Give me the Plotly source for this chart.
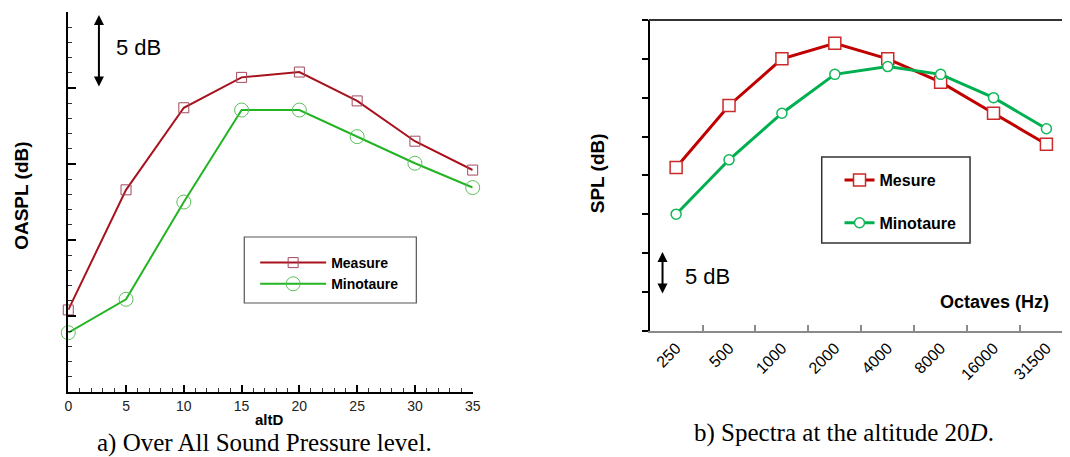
import plotly.graph_objects as go

# ---------------- data ----------------
alt_d = [0, 5, 10, 15, 20, 25, 30, 35]
oaspl_measure = [5.4, 13.3, 18.7, 20.7, 21.05, 19.15, 16.5, 14.6]
oaspl_minotaure = [3.9, 6.1, 12.5, 18.55, 18.55, 16.8, 15.05, 13.45]

octaves = ["250", "500", "1000", "2000", "4000", "8000", "16000", "31500"]
spl_mesure = [21, 29, 35, 37, 35, 32, 28, 24]
spl_minotaure = [15, 22, 28, 33, 34, 33, 30, 26]

W, H = 1070, 457


def X(px):
    return px / W


def Y(py):
    return 1 - py / H


SANS = "Liberation Sans, Arial, sans-serif"
SERIF = "Liberation Serif, Times New Roman, serif"

fig = go.Figure()

# ---------------- left chart ----------------
fig.add_trace(go.Scatter(
    x=alt_d, y=oaspl_measure, name="Measure", mode="lines+markers",
    line=dict(color="#a8121e", width=2),
    marker=dict(symbol="square-open", size=10, color="#a24a5c", line=dict(width=1)),
    cliponaxis=False, xaxis="x", yaxis="y", legend="legend"))
fig.add_trace(go.Scatter(
    x=alt_d, y=oaspl_minotaure, name="Minotaure", mode="lines+markers",
    line=dict(color="#22b422", width=2),
    marker=dict(symbol="circle-open", size=14, color="#5cbf5c", line=dict(width=1)),
    cliponaxis=False, xaxis="x", yaxis="y", legend="legend"))

# ---------------- right chart ----------------
fig.add_trace(go.Scatter(
    x=octaves, y=spl_mesure, name="Mesure", mode="lines+markers",
    line=dict(color="#c00000", width=3),
    marker=dict(symbol="square", size=12, color="white", line=dict(color="#cc2a2a", width=1.5)),
    cliponaxis=False, xaxis="x2", yaxis="y2", legend="legend2", legendgroup="g1"))
fig.add_trace(go.Scatter(
    x=octaves, y=spl_minotaure, name="Minotaure", mode="lines+markers",
    line=dict(color="#00b050", width=3),
    marker=dict(symbol="circle", size=10, color="white", line=dict(color="#10b858", width=1.5)),
    cliponaxis=False, xaxis="x2", yaxis="y2", legend="legend2", legendgroup="g2"))

fig.update_layout(
    width=W, height=H,
    margin=dict(l=0, r=0, t=0, b=0),
    paper_bgcolor="white", plot_bgcolor="white",
    xaxis=dict(
        domain=[X(65), X(474)], range=[0, 35], anchor="y",
        showline=True, linecolor="black", linewidth=2,
        ticks="inside", ticklen=7, tickwidth=1.5, tickcolor="black",
        tickmode="linear", tick0=0, dtick=5,
        minor=dict(ticks="inside", ticklen=4, tickwidth=1, tickcolor="#333", dtick=1),
        showgrid=False, zeroline=False,
        tickfont=dict(family=SANS, size=14, color="#222"),
    ),
    yaxis=dict(
        domain=[Y(392), Y(12)], range=[0, 25], anchor="x",
        showline=True, linecolor="black", linewidth=2,
        ticks="inside", ticklen=8, tickwidth=2, tickcolor="black",
        tickmode="linear", tick0=0, dtick=5,
        minor=dict(ticks="inside", ticklen=4, tickwidth=1, tickcolor="#333", dtick=1),
        showticklabels=False, showgrid=False, zeroline=False,
    ),
    xaxis2=dict(
        domain=[X(653), 1.0], type="category", range=[-0.5, -0.5 + (W - 653) / 53.5],
        anchor="y2", tickson="boundaries",
        showline=True, linecolor="#8a8a8a", linewidth=2,
        ticks="inside", ticklen=6, tickwidth=1.5, tickcolor="#8a8a8a",
        tickangle=-45, showgrid=False, zeroline=False,
        tickfont=dict(family=SANS, size=16, color="black"),
    ),
    yaxis2=dict(
        domain=[Y(330.7), Y(20)], range=[0, 40], anchor="x2",
        showline=True, linecolor="black", linewidth=2,
        ticks="outside", ticklen=6, tickwidth=1.5, tickcolor="black",
        tickmode="linear", tick0=0, dtick=5,
        showticklabels=False, showgrid=False, zeroline=False,
    ),
    legend=dict(
        x=X(254), y=Y(247), xanchor="left", yanchor="top",
        bgcolor="rgba(0,0,0,0)", borderwidth=0, itemwidth=66,
        font=dict(family=SANS, size=14, color="black", weight="bold"),
        tracegroupgap=0,
    ),
    legend2=dict(
        x=X(845), y=Y(163), xanchor="left", yanchor="top",
        bgcolor="rgba(0,0,0,0)", borderwidth=0, itemwidth=30,
        font=dict(family=SANS, size=16, color="black", weight="bold"),
        traceorder="grouped", tracegroupgap=19,
    ),
    showlegend=True,
)

shapes = [
    # legend frames
    dict(type="rect", xref="paper", yref="paper", x0=X(243), x1=X(417), y0=Y(303), y1=Y(237),
         line=dict(color="#555", width=1.2)),
    dict(type="rect", xref="paper", yref="paper", x0=X(827), x1=X(977), y0=Y(243), y1=Y(157),
         line=dict(color="#333", width=1.5)),
    # top frame line of right chart
    dict(type="line", xref="paper", yref="paper", x0=X(652), x1=1.0, y0=Y(20), y1=Y(20),
         line=dict(color="#333", width=2)),
]
fig.update_layout(shapes=shapes)

annotations = [
    # 5 dB arrows
    dict(xref="paper", yref="paper", x=X(96), y=Y(15), ax=0, ay=73, axref="pixel", ayref="pixel",
         text="", showarrow=True, arrowhead=2, startarrowhead=2, arrowside="end+start",
         arrowsize=1, arrowwidth=2, arrowcolor="black", standoff=0, startstandoff=0),
    dict(xref="paper", yref="paper", x=X(111), y=Y(48), text="5 dB", showarrow=False,
         xanchor="left", yanchor="middle", font=dict(family=SANS, size=22, color="black")),
    dict(xref="paper", yref="paper", x=X(666), y=Y(252), ax=0, ay=43, axref="pixel", ayref="pixel",
         text="", showarrow=True, arrowhead=2, startarrowhead=2, arrowside="end+start",
         arrowsize=1, arrowwidth=2, arrowcolor="black", standoff=0, startstandoff=0),
    dict(xref="paper", yref="paper", x=X(687), y=Y(276), text="5 dB", showarrow=False,
         xanchor="left", yanchor="middle", font=dict(family=SANS, size=22, color="black")),
    # axis titles
    dict(xref="paper", yref="paper", x=X(18), y=Y(196), text="OASPL (dB)", textangle=-90,
         showarrow=False, xanchor="center", yanchor="middle",
         font=dict(family=SANS, size=19, color="black", weight="bold")),
    dict(xref="paper", yref="paper", x=X(269), y=Y(419), text="altD", showarrow=False,
         xanchor="center", yanchor="middle",
         font=dict(family=SANS, size=15, color="black", weight="bold")),
    dict(xref="paper", yref="paper", x=X(600), y=Y(173), text="SPL (dB)", textangle=-90,
         showarrow=False, xanchor="center", yanchor="middle",
         font=dict(family=SANS, size=19, color="black", weight="bold")),
    dict(xref="paper", yref="paper", x=X(1059), y=Y(302), text="Octaves (Hz)", showarrow=False,
         xanchor="right", yanchor="middle",
         font=dict(family=SANS, size=18, color="black", weight="bold")),
    # captions
    dict(xref="paper", yref="paper", x=X(263), y=Y(443), text="a) Over All Sound Pressure level.",
         showarrow=False, xanchor="center", yanchor="middle",
         font=dict(family=SERIF, size=25, color="black")),
    dict(xref="paper", yref="paper", x=X(850), y=Y(433), text="b) Spectra at the altitude 20<i>D</i>.",
         showarrow=False, xanchor="center", yanchor="middle",
         font=dict(family=SERIF, size=25, color="black")),
]
fig.update_layout(annotations=annotations)

fig.write_html("out.html")
